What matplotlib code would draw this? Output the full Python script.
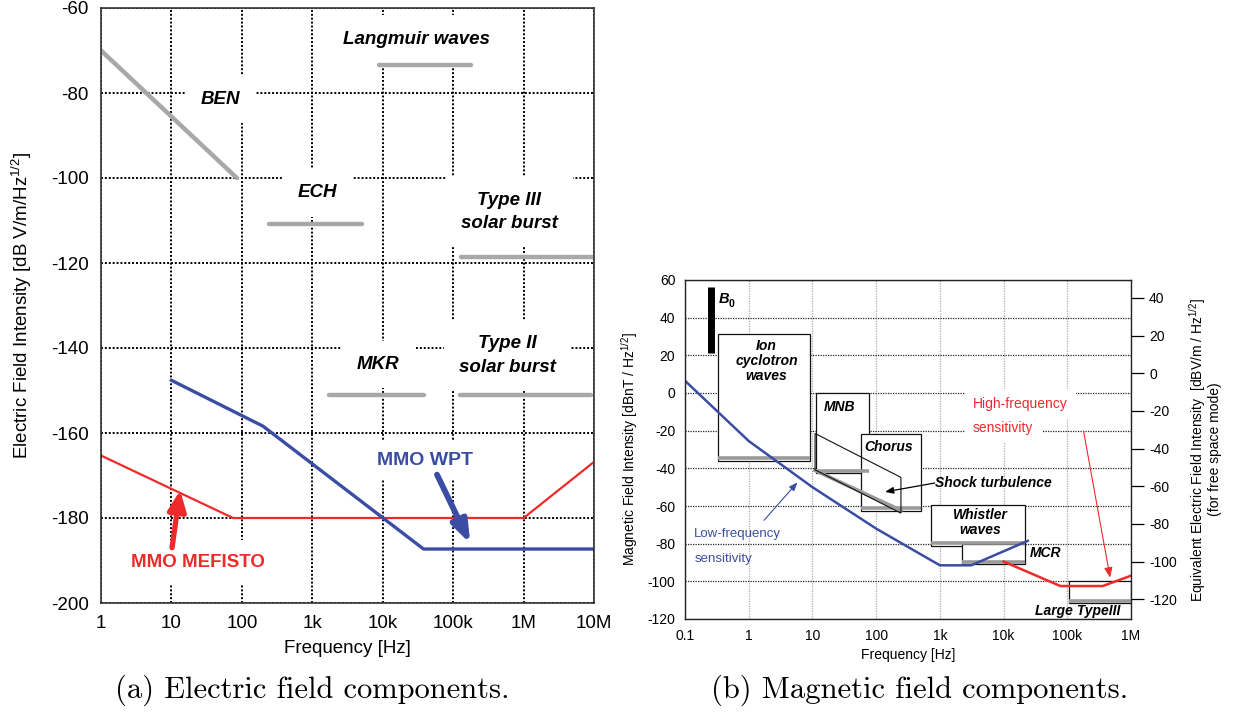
import matplotlib
matplotlib.use('agg')
import matplotlib.pyplot as plt
from matplotlib.patches import Rectangle, Polygon
from matplotlib.ticker import FixedLocator, NullLocator
import matplotlib.transforms as mtransforms

plt.rcParams['font.family'] = ['Liberation Sans', 'DejaVu Sans']
plt.rcParams['axes.unicode_minus'] = False
plt.rcParams['mathtext.fontset'] = 'custom'
plt.rcParams['mathtext.rm'] = 'Liberation Sans'
plt.rcParams['mathtext.it'] = 'Liberation Sans:italic'
plt.rcParams['mathtext.bf'] = 'Liberation Sans:bold'

# ---- panel (a): electric field ----
ticks_a = [1, 10, 100, 1e3, 1e4, 1e5, 1e6, 1e7]
ticklabels_a = ['1', '10', '100', '1k', '10k', '100k', '1M', '10M']

ben_f = [1, 85]
ben_db = [-70, -100]
langmuir_f = [9e3, 1.8e5]
langmuir_db = [-73.5, -73.5]
ech_f = [240, 5e3]
ech_db = [-110.8, -110.8]
type3_f = [1.3e5, 9.3e6]
type3_db = [-118.6, -118.6]
mkr_f = [1.7e3, 3.8e4]
mkr_db = [-151.1, -151.1]
type2_f = [1.25e5, 9e6]
type2_db = [-151.1, -151.1]

wpt_f = [10, 200, 3.8e4, 1e7]
wpt_db = [-147.6, -158.4, -187.3, -187.3]
mefisto_f = [1, 75, 1e6, 1e7]
mefisto_db = [-165.3, -180, -180, -166.8]

# ---- panel (b): magnetic field ----
ticks_b = [0.1, 1, 10, 100, 1e3, 1e4, 1e5, 1e6]
ticklabels_b = ['0.1', '1', '10', '100', '1k', '10k', '100k', '1M']

lf_f = [0.1, 1, 10, 100, 1e3, 3.1e3, 2.4e4]
lf_db = [6.5, -25.5, -50, -72, -91.5, -91.5, -78.5]
hf_f = [1e4, 7.8e4, 3.6e5, 1e6]
hf_db = [-89.5, -102.5, -102.5, -97]

# name: (f_lo, f_hi, db_lo, db_hi)
wave_boxes = {
    'ion': (0.33, 9.1, -36, 31.5),
    'mnb': (11.2, 76, -42.5, 0),
    'chorus': (57, 510, -62.6, -22),
    'whistler': (720, 2.2e4, -81.2, -59.5),
    'mcr': (2.2e3, 2.2e4, -91, -80.4),
    'typeIII': (1.05e5, 1e6, -111.5, -100),
}
shock_f = [11, 245, 245, 11]
shock_db = [-21.5, -44.8, -63.8, -40.8]
b0_f = [0.26, 0.26]
b0_db = [21, 56.4]

E_OFFSET = -10.46  # 20*log10(c * 1 nT) -> dBV/m

BLUE = '#3a4da3'
RED = '#ee2a2a'
GRAY = '#a8a8a8'

W, H = 1233, 715


def rect(l, t, r, b):
    return [l / W, 1 - b / H, (r - l) / W, (b - t) / H]


fig = plt.figure(figsize=(W / 100, H / 100), dpi=100)

# ================= panel (a) =================
ax1 = fig.add_axes(rect(101, 8, 594, 603))
ax1.set_xscale('log')
ax1.set_xlim(1, 1e7)
ax1.set_ylim(-200, -60)
ax1.xaxis.set_major_locator(FixedLocator(ticks_a))
ax1.xaxis.set_minor_locator(NullLocator())
ax1.set_xticklabels(ticklabels_a)
ax1.set_yticks(range(-200, -59, 20))
ax1.tick_params(length=0, labelsize=13.5, pad=9)
ax1.set_axisbelow(True)
ax1.grid(True, color='black', linestyle=(0, (1, 1)), lw=1.4)
for s in ax1.spines.values():
    s.set_color('#333333')
    s.set_linewidth(1.2)
    s.set_zorder(6)

for f, db in [(ben_f, ben_db), (langmuir_f, langmuir_db), (ech_f, ech_db),
              (type3_f, type3_db), (mkr_f, mkr_db), (type2_f, type2_db)]:
    ax1.plot(f, db, color=GRAY, lw=3.2, solid_capstyle='round', zorder=3)

ax1.plot(mefisto_f, mefisto_db, color=RED, lw=1.6, zorder=4)
ax1.plot(wpt_f, wpt_db, color=BLUE, lw=2.4, zorder=5)

lab = dict(fontsize=13.5, fontweight='bold', style='italic', ha='center',
           va='center', zorder=1.5, linespacing=1.5,
           bbox=dict(fc='white', ec='none', pad=11))
ax1.text(49, -81.5, 'BEN', **lab)
ax1.text(3e4, -67.3, 'Langmuir waves', **lab)
ax1.text(1.2e3, -103.5, 'ECH', **lab)
ax1.text(6.3e5, -108, 'Type III\nsolar burst', **lab)
ax1.text(8.7e3, -143.9, 'MKR', **lab)
ax1.text(5.9e5, -141.8, 'Type II\nsolar burst', **lab)

ax1.text(4e4, -166.4, 'MMO WPT', fontsize=14, fontweight='bold',
         color=BLUE, ha='center', va='center', zorder=1.5,
         bbox=dict(fc='white', ec='none', pad=8))
ax1.annotate('', xy=(1.75e5, -186), xytext=(5.9e4, -169.8),
             arrowprops=dict(arrowstyle='-|>,head_length=1.1,head_width=0.4',
                             color=BLUE, lw=4.2, mutation_scale=12,
                             shrinkA=0, shrinkB=0), zorder=5)
ax1.text(24, -190.4, 'MMO MEFISTO', fontsize=13.5, fontweight='bold',
         color=RED, ha='center', va='center', zorder=1.5,
         bbox=dict(fc='white', ec='none', pad=10))
ax1.annotate('', xy=(13.3, -173.5), xytext=(10.2, -187),
             arrowprops=dict(arrowstyle='-|>,head_length=1.0,head_width=0.45',
                             color=RED, lw=3.8, mutation_scale=12,
                             shrinkA=0, shrinkB=0), zorder=5)

ax1.set_xlabel('Frequency [Hz]', fontsize=13.5)
ax1.xaxis.set_label_coords(0.5, -0.062)
ax1.set_ylabel('Electric Field Intensity [dB V/m/Hz$^{1/2}$]', fontsize=13.5)
ax1.yaxis.set_label_coords(-0.135, 0.5)

# ================= panel (b) =================
ax2 = fig.add_axes(rect(685, 280, 1131, 619))
ax2.set_xscale('log')
ax2.set_xlim(0.1, 1e6)
ax2.set_ylim(-120, 60)
ax2.xaxis.set_major_locator(FixedLocator(ticks_b))
ax2.xaxis.set_minor_locator(NullLocator())
ax2.set_xticklabels(ticklabels_b)
ax2.set_yticks(range(-120, 61, 20))
ax2.tick_params(length=0, labelsize=10, pad=7)
ax2.set_axisbelow(True)
ax2.xaxis.grid(True, color='#aaaaaa', linestyle=(0, (1, 1)), lw=0.9)
ax2.yaxis.grid(True, color='#222222', linestyle=(0, (1, 1)), lw=0.9)
for s in ax2.spines.values():
    s.set_color('#222222')
    s.set_linewidth(1.0)
    s.set_zorder(6)

for name, (f0, f1, d0, d1) in wave_boxes.items():
    ax2.add_patch(Rectangle((f0, d0), f1 - f0, d1 - d0, fc='white',
                            ec='#111111', lw=0.9, zorder=1.2))
    ax2.plot([f0, f1], [d0 + 1.3, d0 + 1.3], color='#9a9a9a', lw=2.6,
             zorder=1.3, solid_capstyle='butt')

ax2.add_patch(Polygon(list(zip(shock_f, shock_db)), closed=True, fill=False,
                      ec='#111111', lw=0.8, zorder=1.4))
ax2.plot([shock_f[3], shock_f[2]], [shock_db[3] - 0.3, shock_db[2] + 1.5],
         color='#9a9a9a', lw=2.6, zorder=1.35)
ax2.plot(b0_f, b0_db, color='black', lw=5, solid_capstyle='butt', zorder=3)

ax2.plot(lf_f, lf_db, color=BLUE, lw=1.8, zorder=4)
ax2.plot(hf_f, hf_db, color=RED, lw=1.8, zorder=4)

blab = dict(fontsize=10, fontweight='bold', style='italic', ha='center',
            va='center', zorder=1.5)
ax2.text(0.335, 50, 'B', fontsize=10.5, fontweight='bold', style='italic',
         ha='left', va='center', zorder=3)
ax2.text(0.335, 50, '0', fontsize=7.5, fontweight='bold', ha='left',
         va='top', zorder=3,
         transform=mtransforms.offset_copy(ax2.transData, fig=fig,
                                           x=7.2, y=0, units='points'))
ax2.text(1.9, 17, 'Ion\ncyclotron\nwaves', linespacing=1.1, **blab)
ax2.text(27, -7.4, 'MNB', **blab)
ax2.text(155, -28.7, 'Chorus', **blab)
ax2.text(4.3e3, -69, 'Whistler\nwaves', linespacing=1.1, **blab)
ax2.text(2.6e4, -84.8, 'MCR', fontsize=10, fontweight='bold', style='italic',
         ha='left', va='center', zorder=1.5)
ax2.text(1.45e5, -115.5, 'Large TypeIII', **blab)
ax2.text(850, -47.6, 'Shock turbulence', fontsize=10, fontweight='bold',
         style='italic', ha='left', va='center', zorder=1.5)
ax2.annotate('', xy=(138, -52.5), xytext=(830, -47.8),
             arrowprops=dict(arrowstyle='-|>,head_length=0.5,head_width=0.2',
                             color='black', lw=0.9, shrinkA=0, shrinkB=0),
             zorder=5)

ax2.text(3.3e3, -5.8, 'High-frequency', fontsize=10, color=RED, ha='left',
         va='center', zorder=1.5, bbox=dict(fc='white', ec='none', pad=6))
ax2.text(3.3e3, -18.5, 'sensitivity', fontsize=10, color=RED, ha='left',
         va='center', zorder=1.5, bbox=dict(fc='white', ec='none', pad=6))
ax2.annotate('', xy=(4.7e5, -98), xytext=(1.8e5, -20.2),
             arrowprops=dict(arrowstyle='-|>,head_length=0.6,head_width=0.25',
                             color=RED, lw=0.8, shrinkA=0, shrinkB=0),
             zorder=5)
ax2.text(0.14, -75, 'Low-frequency', fontsize=9.5, color=BLUE, ha='left',
         va='center', zorder=1.5)
ax2.text(0.14, -88, 'sensitivity', fontsize=9.5, color=BLUE, ha='left',
         va='center', zorder=1.5)
ax2.annotate('', xy=(5.8, -47.5), xytext=(1.74, -67.6),
             arrowprops=dict(arrowstyle='-|>,head_length=0.5,head_width=0.2',
                             color=BLUE, lw=0.8, shrinkA=0, shrinkB=0),
             zorder=5)

ax2.set_xlabel('Frequency [Hz]', fontsize=10)
ax2.xaxis.set_label_coords(0.5, -0.085)
ax2.set_ylabel('Magnetic Field Intensity [dBnT / Hz$^{1/2}$]', fontsize=10)
ax2.yaxis.set_label_coords(-0.1, 0.5)

ax2r = ax2.twinx()
ax2r.set_ylim(-120 + E_OFFSET, 60 + E_OFFSET)
ax2r.set_yticks(range(-120, 41, 20))
ax2r.tick_params(axis='y', direction='out', length=9, width=0.9,
                 labelsize=10, pad=4)
for s in ax2r.spines.values():
    s.set_visible(False)
ax2r.set_ylabel('Equivalent Electric Field Intensity  [dBV/m / Hz$^{1/2}$]\n'
                '(for free space mode)', fontsize=10, linespacing=1.05)
ax2r.yaxis.set_label_coords(1.125, 0.5)

# captions
fig.text(312 / W, 1 - 690 / H, '(a) Electric field components.',
         family='cmr10', fontsize=22, ha='center', va='center')
fig.text(920 / W, 1 - 690 / H, '(b) Magnetic field components.',
         family='cmr10', fontsize=22, ha='center', va='center')

fig.savefig('out.png', dpi=100)
